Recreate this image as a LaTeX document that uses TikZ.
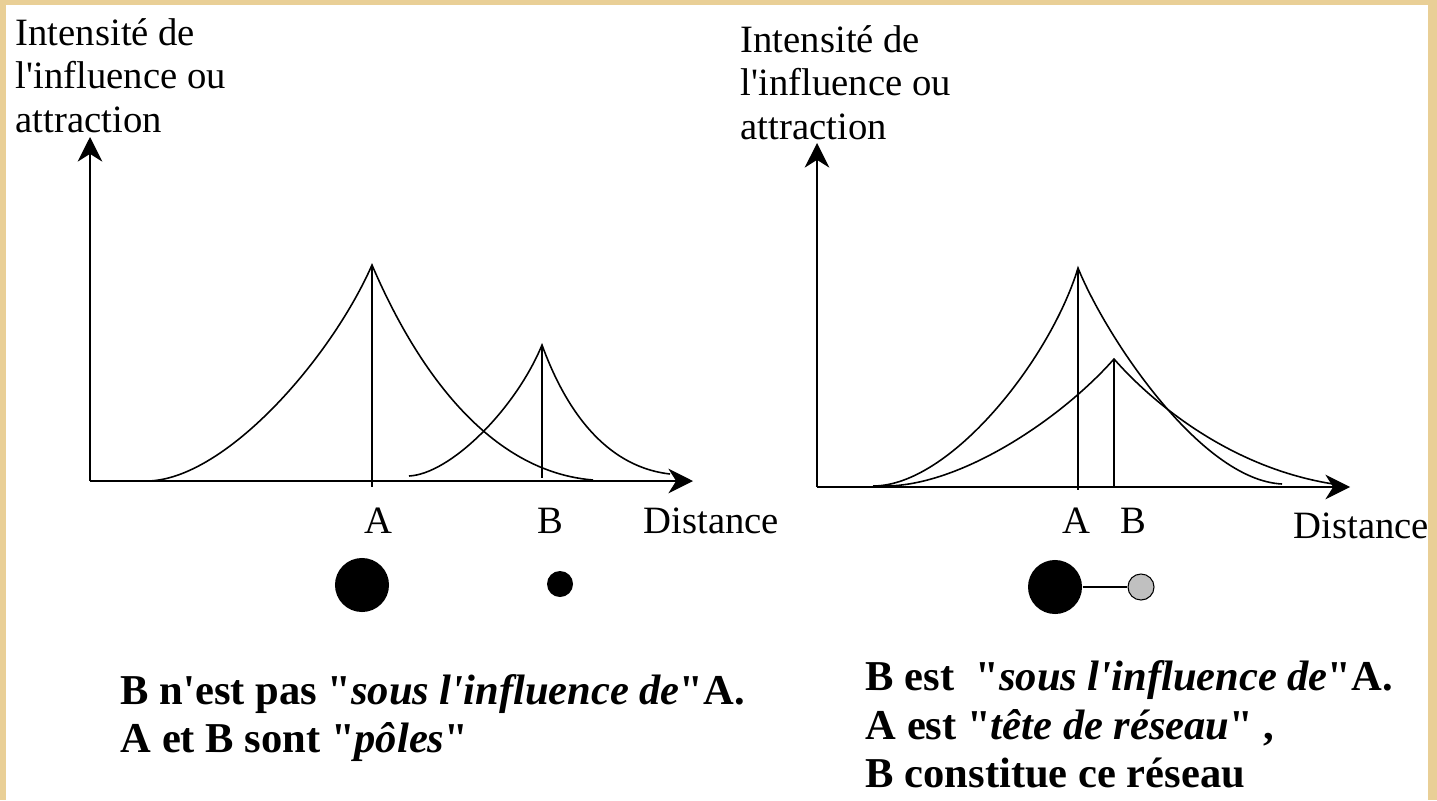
\documentclass[tikz,border=0pt]{standalone}
\usepackage{fontspec}
\setmainfont{Liberation Serif}[Ligatures=TeXOff]
\usepackage{tikz}
\usetikzlibrary{arrows.meta}
\definecolor{parch}{RGB}{233,207,150}
\definecolor{dotgrey}{RGB}{192,192,192}
\tikzstyle{axis} = [line width=0.4pt, -{Stealth[length=7pt,width=7pt,inset=2.2pt]}]
\tikzstyle{curve} = [line width=0.45pt]
\tikzstyle{axlab} = [anchor=base west, inner sep=0pt, font=\fontsize{11}{12.4}\selectfont]
\tikzstyle{ptlab} = [anchor=base, inner sep=0pt, font=\fontsize{11}{12.4}\selectfont]
\tikzstyle{note} = [anchor=base west, inner sep=0pt, font=\fontsize{12.1}{14}\selectfont\bfseries]
\tikzstyle{bigdot} = [circle, fill=black, minimum size=0.54cm, inner sep=0pt]
\tikzstyle{smalldot} = [circle, fill=black, minimum size=0.26cm, inner sep=0pt]
\tikzstyle{greydot} = [circle, draw=black, fill=dotgrey, line width=0.3pt, minimum size=0.26cm, inner sep=0pt]

\begin{document}
\begin{tikzpicture}[x=0.01cm, y=-0.01cm]
    \fill[parch] (0,0) rectangle (1437,800);
    \fill[white] (6,5) rectangle (1428,800);
    \useasboundingbox (0,0) rectangle (1437,800);
    % left panel
    \coordinate (O1) at (90,481);
    \draw[axis] (O1) -- (90,137);
    \draw[axis] (O1) -- (693,481);
    \foreach \t [count=\i] in {Intensité de,l'influence ou,attraction}
        \node[axlab] (ylabL\i) at ({15},{45+43.5*(\i-1)}) {\t};
    \draw[curve] (148,481) .. controls (225,479) and (330,360) .. (372,265) .. controls (400,330) and (470,470) .. (593,480);
    \draw[curve] (409,476) .. controls (450,474) and (515,410) .. (542,345) .. controls (555,380) and (590,465) .. (670,474);
    \draw[curve] (372,265) -- (372,487);
    \draw[curve] (542,345) -- (542,478);
    \node[ptlab] (labA1) at (378,533) {A};
    \node[ptlab] (labB1) at (550,533) {B};
    \node[axlab] (distL) at (643,533) {Distance};
    \node[bigdot] (dotA1) at (362,585) {};
    \node[smalldot] (dotB1) at (560,584) {};
    \node[note] (noteL1) at (120,704) {B n'est pas "\textit{sous l'influence de}"A.};
    \node[note] (noteL2) at (120,752) {A et B sont "\textit{pôles}"};
    % right panel
    \coordinate (O2) at (817,487);
    \draw[axis] (O2) -- (817,143);
    \draw[axis] (O2) -- (1350,487);
    \foreach \t [count=\i] in {Intensité de,l'influence ou,attraction}
        \node[axlab] (ylabR\i) at ({740},{52+43.5*(\i-1)}) {\t};
    \draw[curve] (873,486) .. controls (950,486) and (1050,360) .. (1078,268) .. controls (1105,335) and (1200,480) .. (1282,484);
    \draw[curve] (885,486) .. controls (960,486) and (1060,420) .. (1114,359) .. controls (1150,400) and (1230,470) .. (1340,485);
    \draw[curve] (1078,268) -- (1078,490);
    \draw[curve] (1114,359) -- (1114,487);
    \node[ptlab] (labA2) at (1076,533) {A};
    \node[ptlab] (labB2) at (1133,533) {B};
    \node[axlab] (distR) at (1293,538) {Distance};
    \node[bigdot] (dotA2) at (1055,587) {};
    \node[greydot] (dotB2) at (1141,587) {};
    \draw[curve] (dotA2) -- (dotB2);
    \node[note] (noteR1) at (865,690) {B est~~"\textit{sous l'influence de}"A.};
    \node[note] (noteR2) at (865,739) {A est "\textit{tête de réseau}" ,};
    \node[note] (noteR3) at (865,787) {B constitue ce réseau};
\end{tikzpicture}
\end{document}
